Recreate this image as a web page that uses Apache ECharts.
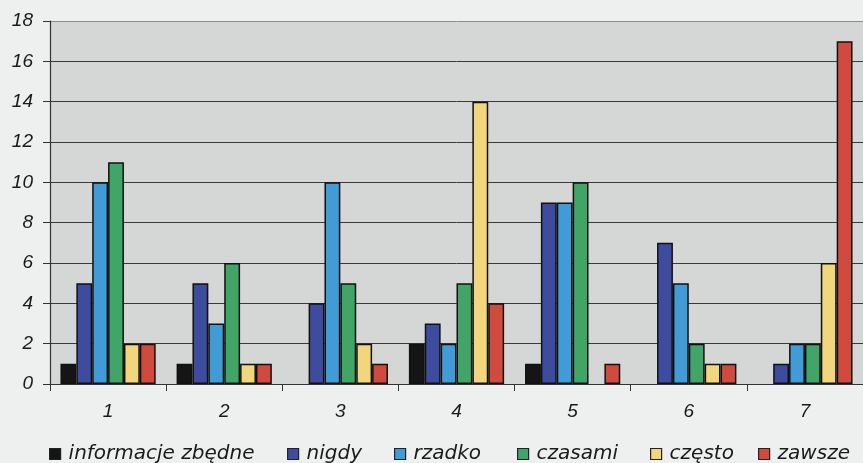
<!DOCTYPE html>
<html>
<head>
<meta charset="utf-8">
<script src="https://cdn.jsdelivr.net/npm/echarts@6/dist/echarts.min.js"></script>
<style>
  html, body { margin: 0; padding: 0; background: #eef0ef; }
  #chart { width: 863px; height: 463px; }
</style>
</head>
<body>
<div id="chart"></div>
<script>
// Question numbers along the x axis
const categories = ['1', '2', '3', '4', '5', '6', '7'];

// Answer counts per question, one array per answer option
const informacjeZbedne = [1, 1, 0, 2, 1, 0, 0];
const nigdy            = [5, 5, 4, 3, 9, 7, 1];
const rzadko           = [10, 3, 10, 2, 9, 5, 2];
const czasami          = [11, 6, 5, 5, 10, 2, 2];
const czesto           = [2, 1, 2, 14, 0, 1, 6];
const zawsze           = [2, 1, 1, 4, 1, 1, 17];

const seriesNames = ['informacje zbędne', 'nigdy', 'rzadko', 'czasami', 'często', 'zawsze'];
const seriesValues = [informacjeZbedne, nigdy, rzadko, czasami, czesto, zawsze];
const seriesColors = ['#151515', '#3d4c9e', '#409bd6', '#40a567', '#f1d67e', '#d04b3e'];

// Y axis ticks 0..18 step 2
const yMin = 0, yMax = 18, yStep = 2;

// Left offsets of each legend entry along the bottom row
const legendLefts = [49, 287, 394, 517, 650, 758];

// Gridline colours from the 0 line up to the 18 line; the top one is lighter
const gridLineColors = ['#3a3a3a', '#3a3a3a', '#3a3a3a', '#3a3a3a', '#3a3a3a',
                        '#3a3a3a', '#3a3a3a', '#3a3a3a', '#3a3a3a', '#8c8e8e'];

const chart = echarts.init(document.getElementById('chart'), null, { renderer: 'canvas' });

const labelFont = {
  fontFamily: 'Liberation Sans, Arial, sans-serif',
  fontStyle: 'italic',
  fontSize: 19,
  color: '#1a1a1a'
};

const option = {
  backgroundColor: '#eef0ef',
  animation: false,
  grid: {
    left: 50, top: 21, width: 819, height: 363,
    show: true,
    backgroundColor: '#d5d7d7',
    borderWidth: 0
  },
  legend: seriesNames.map((name, i) => ({
    data: [name],
    left: legendLefts[i],
    top: 444,
    padding: 0,
    itemWidth: 11,
    itemHeight: 11,
    icon: 'rect',
    itemStyle: { borderColor: '#222', borderWidth: 1.2 },
    textStyle: {
      fontFamily: 'DejaVu Sans, sans-serif',
      fontStyle: 'italic',
      fontSize: 20,
      color: '#1a1a1a',
      padding: [0, 0, 0, 3]
    }
  })),
  xAxis: {
    type: 'category',
    data: categories,
    axisLine: { show: true, lineStyle: { color: '#333', width: 1.2 } },
    axisTick: { show: true, length: 7, alignWithLabel: false, lineStyle: { color: '#333' } },
    axisLabel: Object.assign({ margin: 18 }, labelFont),
    splitLine: { show: false }
  },
  yAxis: {
    type: 'value',
    min: yMin, max: yMax, interval: yStep,
    axisLine: { show: true, lineStyle: { color: '#333', width: 1.2 } },
    axisTick: { show: true, length: 7, lineStyle: { color: '#333' } },
    axisLabel: Object.assign({ margin: 17 }, labelFont),
    splitLine: { show: true, lineStyle: { color: gridLineColors, width: 1 } }
  },
  series: seriesNames.map((name, i) => ({
    name: name,
    type: 'bar',
    // a zero count draws no bar at all
    data: seriesValues[i].map(v => (v === 0 ? null : v)),
    barGap: '0%',
    barCategoryGap: '18%',
    itemStyle: { color: seriesColors[i], borderColor: '#111', borderWidth: 1.5 }
  }))
};

chart.setOption(option);
</script>
</body>
</html>
